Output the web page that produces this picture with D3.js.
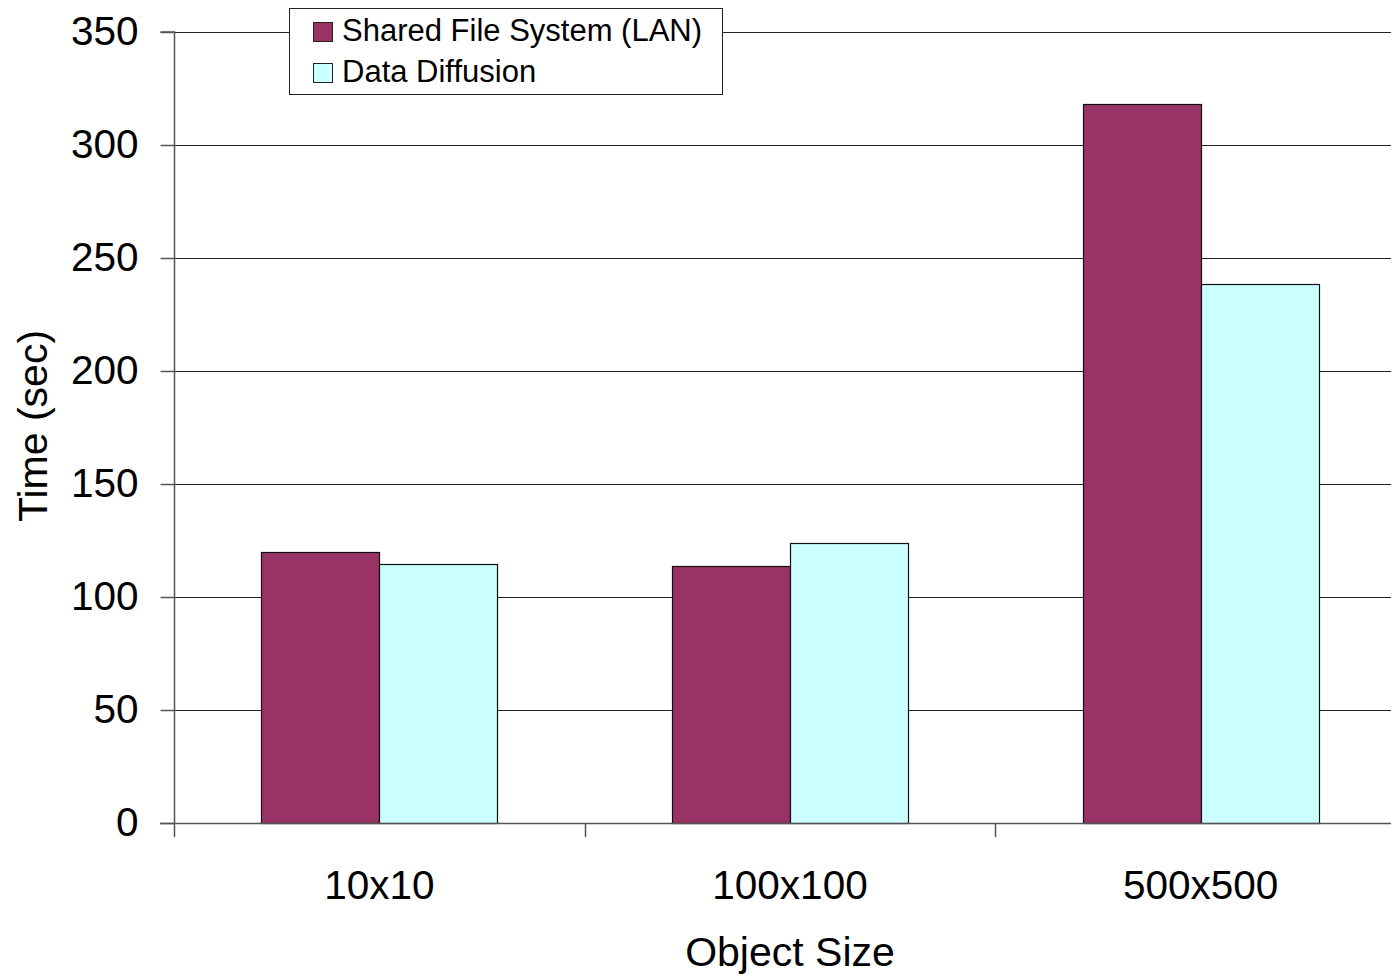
<!DOCTYPE html>
<html>
<head>
<meta charset="utf-8">
<script src="https://cdn.jsdelivr.net/npm/d3@7"></script>
<style>
  html, body { margin: 0; padding: 0; background: #fff; }
  svg { display: block; font-family: "Liberation Sans", Arial, sans-serif; }
</style>
</head>
<body>
<svg id="chart" width="1391" height="975"></svg>
<script>
const categories = ["10x10", "100x100", "500x500"];
const seriesNames = ["Shared File System (LAN)", "Data Diffusion"];
const sharedFS = [120, 113.8, 318];
const dataDiffusion = [114.7, 123.9, 238.5];
const yTicks = [0, 50, 100, 150, 200, 250, 300, 350];
const colors = ["#993366", "#CCFFFF"];

(function () {
const svg = d3.select("#chart");
const mLeft = 174, mTop = 32, mBottom = 823;
const step = 410.67;
const mRight = mLeft + step * categories.length;

const x = d3.scaleBand().domain(categories).range([mLeft, mRight])
  .paddingInner(0.425).paddingOuter(0.2125);
const xs = d3.scaleBand().domain(seriesNames).range([0, x.bandwidth()]);
const y = d3.scaleLinear().domain([0, 350]).range([mBottom, mTop]);

// gridlines
svg.append("g").selectAll("line").data(yTicks.filter(d => d > 0)).join("line")
  .attr("x1", mLeft).attr("x2", mRight)
  .attr("y1", d => Math.round(y(d)) + 0.5).attr("y2", d => Math.round(y(d)) + 0.5)
  .attr("stroke", "#222").attr("stroke-width", 1);

// bars
const data = categories.map((c, i) => ({ c, vals: [sharedFS[i], dataDiffusion[i]] }));
const g = svg.append("g");
data.forEach(d => {
  d.vals.forEach((v, j) => {
    g.append("rect")
      .attr("x", Math.round(x(d.c) + xs(seriesNames[j])) + 0.5)
      .attr("y", Math.round(y(v)) + 0.5)
      .attr("width", Math.round(xs.bandwidth()))
      .attr("height", Math.round(y(0)) - Math.round(y(v)))
      .attr("fill", colors[j])
      .attr("stroke", "#111").attr("stroke-width", 1.2);
  });
});

// y axis
const yAxis = svg.append("g").attr("transform", `translate(${mLeft + 0.5},0)`)
  .call(d3.axisLeft(y).tickValues(yTicks).tickSize(14).tickPadding(22).tickFormat(d3.format("d")));
yAxis.select(".domain").attr("stroke", "#555").attr("stroke-width", 1.5).attr("d", `M-14,${y(350)}H0V${y(0)}`);
yAxis.selectAll(".tick line").attr("stroke", "#555").attr("stroke-width", 1.5);
yAxis.selectAll(".tick text").attr("font-size", 40.5).attr("fill", "#000").attr("dy", "0.3em")
  .attr("font-family", "Liberation Sans, Arial, sans-serif");

// x axis
const xAxisG = svg.append("g");
xAxisG.append("line").attr("x1", mLeft - 14).attr("x2", mRight)
  .attr("y1", Math.round(y(0)) + 0.5).attr("y2", Math.round(y(0)) + 0.5)
  .attr("stroke", "#555").attr("stroke-width", 1.5);
xAxisG.selectAll("line.tk").data(d3.range(categories.length + 1)).join("line")
  .attr("class", "tk")
  .attr("x1", i => Math.round(mLeft + i * step) + 0.5).attr("x2", i => Math.round(mLeft + i * step) + 0.5)
  .attr("y1", y(0)).attr("y2", y(0) + 14)
  .attr("stroke", "#555").attr("stroke-width", 1.5);
xAxisG.selectAll("text").data(categories).join("text")
  .attr("x", d => x(d) + x.bandwidth() / 2)
  .attr("y", 899)
  .attr("text-anchor", "middle")
  .attr("font-size", 40.5)
  .text(d => d);

// axis titles
svg.append("text").attr("x", 790).attr("y", 966).attr("text-anchor", "middle")
  .attr("font-size", 41).text("Object Size");
svg.append("text").attr("transform", "translate(47,426) rotate(-90)").attr("text-anchor", "middle")
  .attr("font-size", 41).text("Time (sec)");

// legend
const leg = svg.append("g");
leg.append("rect").attr("x", 289.5).attr("y", 8.5).attr("width", 433).attr("height", 86)
  .attr("fill", "#fff").attr("stroke", "#222").attr("stroke-width", 1);
seriesNames.forEach((s, i) => {
  leg.append("rect").attr("x", 313.5).attr("y", 22.5 + i * 41).attr("width", 19).attr("height", 19)
    .attr("fill", colors[i]).attr("stroke", "#222").attr("stroke-width", 1);
  leg.append("text").attr("x", 342).attr("y", 41 + i * 41).attr("font-size", 31).text(s);
});
})();
</script>
</body>
</html>
